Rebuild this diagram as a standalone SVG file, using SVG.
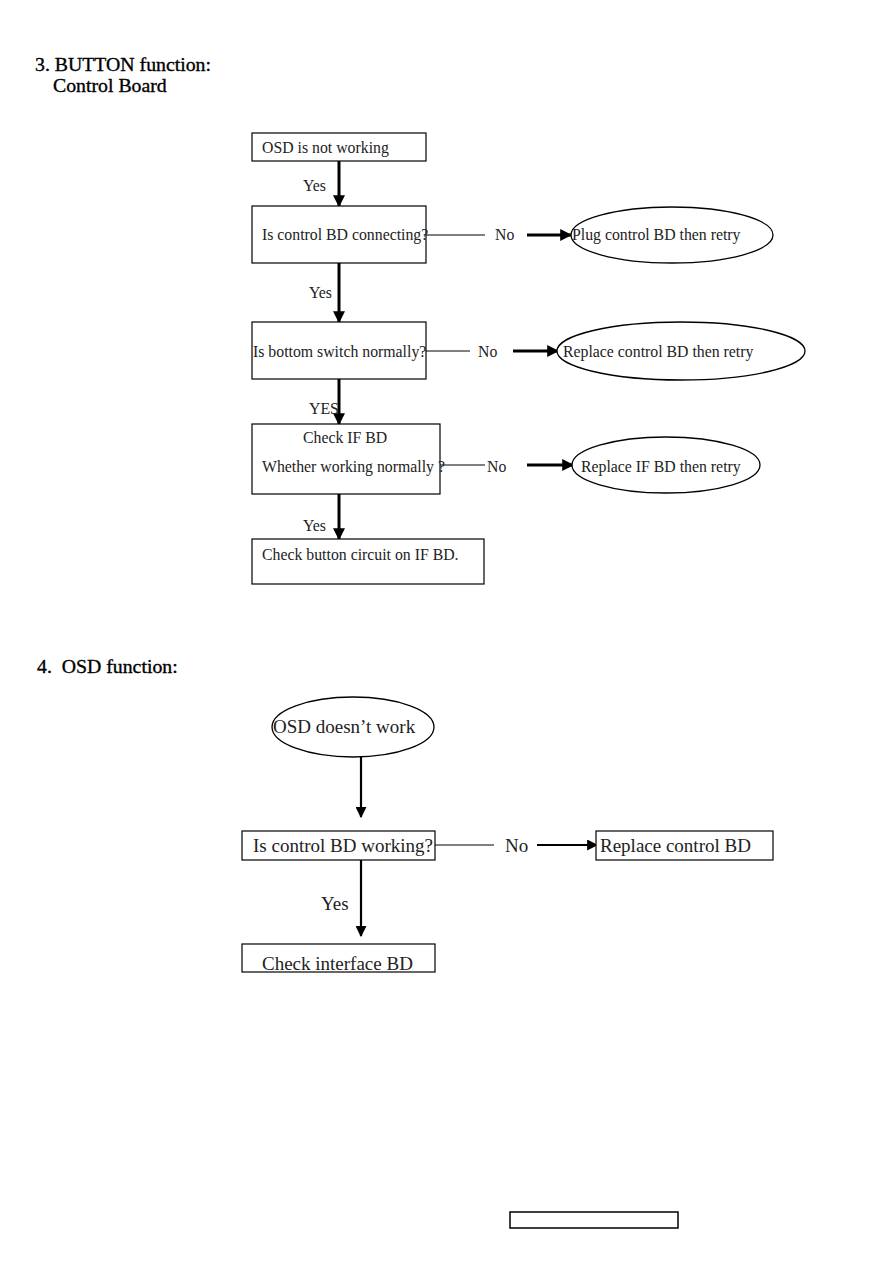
<svg xmlns="http://www.w3.org/2000/svg" width="893" height="1263" viewBox="0 0 893 1263">
<defs>
<marker id="ah" viewBox="0 0 10 10" refX="9" refY="5" markerWidth="4" markerHeight="4" orient="auto" markerUnits="strokeWidth"><path d="M0,0 L10,5 L0,10 z" fill="#000"/></marker>
<marker id="ah2" viewBox="0 0 10 10" refX="9" refY="5" markerWidth="5" markerHeight="5" orient="auto" markerUnits="strokeWidth"><path d="M0,0 L10,5 L0,10 z" fill="#000"/></marker>
<style>
text{font-family:"Liberation Serif","Times New Roman",serif;fill:#222}
.h{font-size:19.8px;fill:#000;stroke:#000;stroke-width:0.35;white-space:pre}
.t{font-size:15.8px}
.t2{font-size:19px}
.box{fill:#fff;stroke:#000;stroke-width:1.2}
.ell{fill:#fff;stroke:#000;stroke-width:1.3}
.thin{stroke:#000;stroke-width:1;fill:none}
.thick{stroke:#000;stroke-width:3;fill:none;marker-end:url(#ah)}
.med{stroke:#000;stroke-width:2.2;fill:none;marker-end:url(#ah2)}
</style>
</defs>
<rect width="893" height="1263" fill="#fff"/>
<text class="h" x="35" y="71">3. BUTTON function:</text>
<text class="h" x="53" y="92">Control Board</text>
<text class="h" x="37" y="673" xml:space="preserve">4.  OSD function:</text>

<g id="connectors">
<line class="thick" x1="339" y1="161" x2="339" y2="206"/>
<line class="thin" x1="426" y1="235" x2="485" y2="235"/>
<line class="thick" x1="527" y1="235" x2="571" y2="235"/>
<line class="thick" x1="339" y1="263" x2="339" y2="322"/>
<line class="thin" x1="426" y1="351" x2="470" y2="351"/>
<line class="thick" x1="513" y1="351" x2="558" y2="351"/>
<line class="thick" x1="339" y1="379" x2="339" y2="424"/>
<line class="thin" x1="440" y1="465" x2="485" y2="465"/>
<line class="thick" x1="527" y1="465" x2="573" y2="465"/>
<line class="thick" x1="339" y1="494" x2="339" y2="539"/>
<line class="med" x1="361" y1="757" x2="361" y2="817"/>
<line class="thin" x1="435" y1="845" x2="494" y2="845"/>
<line class="med" x1="537" y1="845" x2="597" y2="845"/>
<line class="med" x1="361" y1="860" x2="361" y2="936"/>
<text class="t" x="303" y="191">Yes</text>
<text class="t" x="495" y="240">No</text>
<text class="t" x="309" y="298">Yes</text>
<text class="t" x="478" y="357">No</text>
<text class="t" x="309" y="414">YES</text>
<text class="t" x="487" y="472">No</text>
<text class="t" x="303" y="531">Yes</text>
<text class="t2" x="505" y="852">No</text>
<text class="t2" x="321" y="910">Yes</text>
</g>

<g id="n1"><rect class="box" x="252" y="133" width="174" height="28"/><text class="t" x="262" y="153">OSD is not working</text></g>
<g id="n2"><rect class="box" x="252" y="206" width="174" height="57"/><text class="t" x="262" y="240">Is control BD connecting?</text></g>
<g id="n3"><ellipse class="ell" cx="672" cy="235" rx="101" ry="28"/><text class="t" x="572" y="240">Plug control BD then retry</text></g>
<g id="n4"><rect class="box" x="252" y="322" width="174" height="57"/><text class="t" x="253" y="357">Is bottom switch normally?</text></g>
<g id="n5"><ellipse class="ell" cx="681" cy="351" rx="124" ry="29"/><text class="t" x="563" y="357">Replace control BD then retry</text></g>
<g id="n6"><rect class="box" x="252" y="424" width="188" height="70"/><text class="t" x="303" y="443">Check IF BD</text><text class="t" x="262" y="472">Whether working normally ?</text></g>
<g id="n7"><ellipse class="ell" cx="666" cy="465" rx="94" ry="28"/><text class="t" x="581" y="472">Replace IF BD then retry</text></g>
<g id="n8"><rect class="box" x="252" y="539" width="232" height="45"/><text class="t" x="262" y="560">Check button circuit on IF BD.</text></g>

<g id="m1"><ellipse class="ell" cx="353" cy="727" rx="81" ry="30"/><text class="t2" x="273" y="733">OSD doesn’t work</text></g>
<g id="m2"><rect class="box" x="242" y="831" width="193" height="29"/><text class="t2" x="253" y="852">Is control BD working?</text></g>
<g id="m3"><rect class="box" x="596" y="831" width="177" height="29"/><text class="t2" x="600" y="852">Replace control BD</text></g>
<g id="m4"><rect class="box" x="242" y="944" width="193" height="28"/><text class="t2" x="262" y="970">Check interface BD</text></g>

<rect x="510" y="1212" width="168" height="16" fill="none" stroke="#000" stroke-width="1.5"/>
</svg>
